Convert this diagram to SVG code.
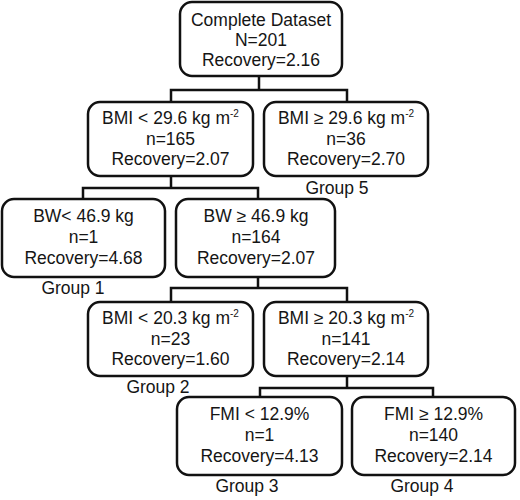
<svg xmlns="http://www.w3.org/2000/svg" width="520" height="500" viewBox="0 0 520 500">
<style>
.box{fill:#fff;stroke:#111;stroke-width:2.5}
.ln{stroke:#111;stroke-width:2.5;fill:none}
text{font-family:"Liberation Sans",Arial,sans-serif;font-size:17.5px;fill:#151515;text-anchor:middle}
.sup{font-size:10px}
</style>
<rect width="520" height="500" fill="#fff"/>
<g id="connectors">
<path class="ln" d="M259 76V90M171 102V90H347V102"/>
<path class="ln" d="M171 176V188M83 199V188H258V199"/>
<path class="ln" d="M258 277V288M171 302V288H347V302"/>
<path class="ln" d="M347 376V388M260 397V388H433V397"/>
</g>
<g id="root">
<rect class="box" x="180" y="2" width="162" height="74" rx="12"/>
<text x="261" y="26">Complete Dataset</text>
<text x="261" y="46">N=201</text>
<text x="261" y="66">Recovery=2.16</text>
</g>
<g id="bmi-low">
<rect class="box" x="88" y="102" width="165" height="74" rx="12"/>
<text x="170.5" y="124">BMI &lt; 29.6 kg m<tspan class="sup" dy="-7">-2</tspan></text>
<text x="170.5" y="145">n=165</text>
<text x="170.5" y="165">Recovery=2.07</text>
</g>
<g id="bmi-high">
<rect class="box" x="264" y="102" width="164" height="74" rx="12"/>
<text x="346" y="124">BMI ≥ 29.6 kg m<tspan class="sup" dy="-7">-2</tspan></text>
<text x="346" y="145">n=36</text>
<text x="346" y="165">Recovery=2.70</text>
<text x="337" y="194">Group 5</text>
</g>
<g id="bw-low">
<rect class="box" x="2" y="199" width="163" height="78" rx="12"/>
<text x="83.5" y="222">BW&lt; 46.9 kg</text>
<text x="83.5" y="243">n=1</text>
<text x="83.5" y="264">Recovery=4.68</text>
<text x="73" y="294">Group 1</text>
</g>
<g id="bw-high">
<rect class="box" x="176" y="199" width="159" height="78" rx="12"/>
<text x="256" y="222">BW ≥ 46.9 kg</text>
<text x="256" y="243">n=164</text>
<text x="256" y="264">Recovery=2.07</text>
</g>
<g id="bmi2-low">
<rect class="box" x="88" y="302" width="165" height="74" rx="12"/>
<text x="170.5" y="324">BMI &lt; 20.3 kg m<tspan class="sup" dy="-7">-2</tspan></text>
<text x="170.5" y="345">n=23</text>
<text x="170.5" y="365">Recovery=1.60</text>
<text x="158" y="393">Group 2</text>
</g>
<g id="bmi2-high">
<rect class="box" x="264" y="302" width="164" height="74" rx="12"/>
<text x="346" y="324">BMI ≥ 20.3 kg m<tspan class="sup" dy="-7">-2</tspan></text>
<text x="346" y="345">n=141</text>
<text x="346" y="365">Recovery=2.14</text>
</g>
<g id="fmi-low">
<rect class="box" x="177" y="397" width="165" height="78" rx="12"/>
<text x="259.5" y="420">FMI &lt; 12.9%</text>
<text x="259.5" y="441">n=1</text>
<text x="259.5" y="462">Recovery=4.13</text>
<text x="247" y="492">Group 3</text>
</g>
<g id="fmi-high">
<rect class="box" x="352" y="397" width="163" height="78" rx="12"/>
<text x="433.5" y="420">FMI ≥ 12.9%</text>
<text x="433.5" y="441">n=140</text>
<text x="433.5" y="462">Recovery=2.14</text>
<text x="422" y="492">Group 4</text>
</g>
</svg>
